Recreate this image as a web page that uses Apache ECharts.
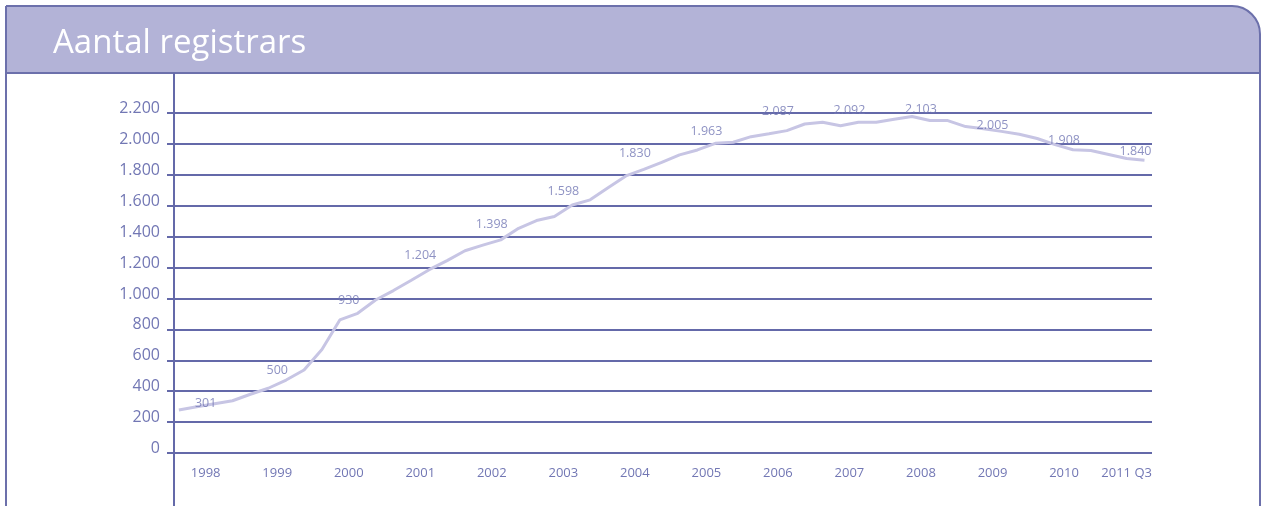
<!DOCTYPE html>
<html>
<head>
<meta charset="utf-8">
<script src="https://cdn.jsdelivr.net/npm/echarts@6/dist/echarts.min.js"></script>
<style>
html,body{margin:0;padding:0;background:#fff;}
#chart{width:1262px;height:506px;}
</style>
</head>
<body>
<div id="chart"></div>
<script>
// ---- data ----
const titleText = 'Aantal registrars';
// quarterly number of registrars, 1998 Q1 .. 2011 Q3
const firstYear = 1998;
const quarterValues = [
  278, 299, 319, 338,
  380, 419, 472, 537,
  670, 861, 904, 990,
  1051, 1118, 1186, 1245,
  1309, 1345, 1379, 1454,
  1504, 1530, 1605, 1638,
  1717, 1793, 1835, 1880,
  1929, 1961, 2004, 2011,
  2047, 2066, 2086, 2129,
  2140, 2118, 2140, 2140,
  2160, 2177, 2151, 2151,
  2112, 2098, 2081, 2063,
  2035, 1995, 1962, 1957,
  1932, 1906, 1895
];
// yearly labelled values
const labelYears = [1998, 1999, 2000, 2001, 2002, 2003, 2004, 2005, 2006, 2007, 2008, 2009, 2010, 2011];
const annualValues = [301, 500, 930, 1204, 1398, 1598, 1830, 1963, 2087, 2092, 2103, 2005, 1908, 1840];
// x tick labels
const xTickLabels = ['1998', '1999', '2000', '2001', '2002', '2003', '2004', '2005', '2006', '2007', '2008', '2009', '2010', '2011 Q3'];
// y ticks
const yMin = 0, yMax = 2200, yStep = 200;

// ---- helpers ----
const textColor = '#7277b4';
const gridColor = '#6469a9';
const lineColor = '#c7c5e4';
const headerColor = '#b3b3d7';
const borderColor = '#6c70ab';
const fontFamily = '"Open Sans", "Noto Sans", sans-serif';

function fmtNL(v) {
  v = Math.round(v);
  if (v < 1000) return String(v);
  const rest = String(v % 1000).padStart(3, '0');
  return Math.floor(v / 1000) + '.' + rest;
}

const lastEnd = firstYear + quarterValues.length / 4; // end of last quarter
const lineData = quarterValues.map((v, i) => [firstYear + (i + 0.5) / 4, v]);
const labelData = annualValues.map((v, i) => [labelYears[i] + 0.5, v]);
const tickPositions = xTickLabels.map((t, i) => {
  const start = firstYear + i;
  const end = Math.min(start + 1, lastEnd);
  return (start + end) / 2;
});

const chart = echarts.init(document.getElementById('chart'), null, {renderer: 'canvas'});

const option = {
  animation: false,
  backgroundColor: '#ffffff',
  title: {
    text: titleText,
    left: 48,
    top: 22,
    padding: 5,
    textStyle: {
      color: '#ffffff',
      fontSize: 33,
      fontWeight: 'normal',
      fontFamily: fontFamily,
      lineHeight: 34
    }
  },
  graphic: [
    {
      type: 'rect', z: -10, silent: true,
      shape: {x: 6, y: 6, width: 1254, height: 67, r: [0, 28, 0, 0]},
      style: {fill: headerColor}
    },
    {
      type: 'rect', z: 50, silent: true,
      shape: {x: 6, y: 6, width: 1254, height: 700, r: [0, 28, 0, 0]},
      style: {fill: null, stroke: borderColor, lineWidth: 2}
    },
    {
      type: 'line', z: 50, silent: true,
      shape: {x1: 6, y1: 73, x2: 1260, y2: 73},
      style: {stroke: borderColor, lineWidth: 2}
    },
    {
      type: 'line', z: 50, silent: true,
      shape: {x1: 174, y1: 73, x2: 174, y2: 506},
      style: {stroke: gridColor, lineWidth: 2}
    }
  ],
  grid: {left: 174, right: 110, top: 113, bottom: 53, containLabel: false},
  xAxis: {
    type: 'value',
    min: 1998.057,
    max: 2011.73,
    axisLine: {show: false},
    axisTick: {show: false},
    splitLine: {show: false},
    axisLabel: {
      customValues: tickPositions,
      formatter: function (val) {
        for (let i = 0; i < tickPositions.length; i++) {
          if (Math.abs(tickPositions[i] - val) < 1e-6) return xTickLabels[i];
        }
        return '';
      },
      color: textColor,
      fontSize: 13,
      fontFamily: fontFamily,
      margin: 14
    }
  },
  yAxis: [
    {
      type: 'value',
      min: yMin,
      max: yMax,
      interval: yStep,
      axisLine: {show: false},
      axisTick: {show: true, length: 7, lineStyle: {color: gridColor, width: 2}},
      splitLine: {show: true, lineStyle: {color: gridColor, width: 2}},
      axisLabel: {
        color: textColor,
        fontSize: 16,
        fontFamily: fontFamily,
        margin: 14,
        verticalAlign: 'bottom',
        lineHeight: 9,
        formatter: fmtNL
      }
    },
    {
      // scale on which the yearly value labels are placed
      type: 'value',
      show: false,
      min: 85,
      max: 2167,
      splitLine: {show: false}
    }
  ],
  series: [
    {
      type: 'line',
      data: lineData,
      symbol: 'none',
      lineStyle: {color: lineColor, width: 3},
      z: 3,
      silent: true
    },
    {
      type: 'scatter',
      yAxisIndex: 1,
      data: labelData,
      symbolSize: 1,
      itemStyle: {color: 'rgba(0,0,0,0)'},
      z: 4,
      silent: true,
      clip: false,
      label: {
        show: true,
        position: 'top',
        distance: 7,
        lineHeight: 14,
        color: textColor,
        fontSize: 12.5,
        fontFamily: fontFamily,
        formatter: p => fmtNL(p.value[1])
      },
      labelLayout: {hideOverlap: false}
    }
  ]
};
chart.setOption(option);
</script>
</body>
</html>
